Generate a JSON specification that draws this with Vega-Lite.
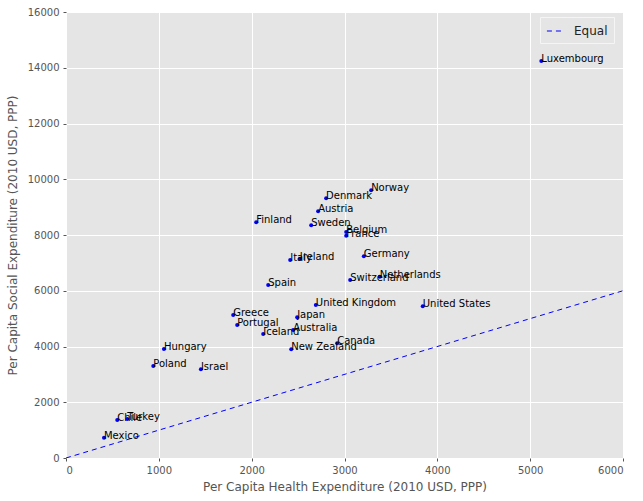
{
  "$schema": "https://vega.github.io/schema/vega-lite/v6.json",
  "width": 557,
  "height": 446,
  "autosize": "none",
  "padding": {"left": 66, "top": 12, "right": 20, "bottom": 43},
  "background": "white",
  "config": {
    "font": "DejaVu Sans",
    "view": {"fill": "#E5E5E5", "stroke": null},
    "axis": {
      "grid": true,
      "gridColor": "white",
      "gridWidth": 1,
      "domain": false,
      "tickColor": "#555555",
      "tickSize": 3,
      "labelColor": "#555555",
      "labelFontSize": 10,
      "labelFont": "DejaVu Sans",
      "titleFont": "DejaVu Sans",
      "titleFontSize": 12,
      "titleFontWeight": "normal",
      "titleColor": "#555555",
      "format": "d"
    },
    "legend": {
      "orient": "none",
      "legendX": 474,
      "legendY": 5,
      "fillColor": "#E5E5E5",
      "strokeColor": "#F5F5F5",
      "padding": 6,
      "labelFontSize": 12,
      "labelFont": "DejaVu Sans",
      "labelColor": "#222222",
      "symbolType": "stroke",
      "symbolSize": 200,
      "symbolStrokeWidth": 1,
      "labelOffset": 12
    }
  },
  "datasets": {
    "countries": [
      {"country": "Luxembourg", "health": 5120, "social": 14242},
      {"country": "Norway", "health": 3287, "social": 9603},
      {"country": "Denmark", "health": 2802, "social": 9315},
      {"country": "Austria", "health": 2716, "social": 8849},
      {"country": "Finland", "health": 2049, "social": 8455},
      {"country": "Sweden", "health": 2641, "social": 8347},
      {"country": "Belgium", "health": 3018, "social": 8108},
      {"country": "France", "health": 3018, "social": 7976},
      {"country": "Germany", "health": 3208, "social": 7235},
      {"country": "Italy", "health": 2415, "social": 7103},
      {"country": "Ireland", "health": 2519, "social": 7151},
      {"country": "Netherlands", "health": 3380, "social": 6505},
      {"country": "Switzerland", "health": 3061, "social": 6386},
      {"country": "Spain", "health": 2178, "social": 6206},
      {"country": "United Kingdom", "health": 2691, "social": 5489},
      {"country": "United States", "health": 3843, "social": 5441},
      {"country": "Greece", "health": 1801, "social": 5130},
      {"country": "Japan", "health": 2490, "social": 5047},
      {"country": "Portugal", "health": 1844, "social": 4771},
      {"country": "Australia", "health": 2447, "social": 4592},
      {"country": "Iceland", "health": 2124, "social": 4448},
      {"country": "Canada", "health": 2921, "social": 4113},
      {"country": "Hungary", "health": 1055, "social": 3910},
      {"country": "New Zealand", "health": 2426, "social": 3898},
      {"country": "Poland", "health": 940, "social": 3300},
      {"country": "Israel", "health": 1453, "social": 3182},
      {"country": "Turkey", "health": 660, "social": 1399},
      {"country": "Chile", "health": 552, "social": 1363},
      {"country": "Mexico", "health": 409, "social": 728}
    ],
    "equal": [
      {"health": 0, "social": 0, "series": "Equal"},
      {"health": 6000, "social": 6000, "series": "Equal"}
    ]
  },
  "layer": [
    {
      "data": {"name": "equal"},
      "mark": {"type": "line", "strokeDash": [5, 4], "strokeWidth": 1, "clip": true},
      "encoding": {
        "x": {"field": "health", "type": "quantitative", "scale": {"domain": [0, 6000], "nice": false}, "axis": {"values": [0, 1000, 2000, 3000, 4000, 5000, 6000], "title": "Per Capita Health Expenditure (2010 USD, PPP)", "titlePadding": 6, "labelPadding": 4}},
        "y": {"field": "social", "type": "quantitative", "scale": {"domain": [0, 16000], "nice": false}, "axis": {"values": [0, 2000, 4000, 6000, 8000, 10000, 12000, 14000, 16000], "title": "Per Capita Social Expenditure (2010 USD, PPP)", "titlePadding": 8, "labelPadding": 4}},
        "color": {"field": "series", "type": "nominal", "scale": {"range": ["#0000FF"]}, "legend": {"title": null}},
        "strokeDash": {"field": "series", "type": "nominal", "scale": {"range": [[5, 4]]}, "legend": {"title": null}}
      }
    },
    {
      "data": {"name": "countries"},
      "mark": {"type": "circle", "size": 16, "color": "#0000FF", "opacity": 1},
      "encoding": {
        "x": {"field": "health", "type": "quantitative"},
        "y": {"field": "social", "type": "quantitative"}
      }
    },
    {
      "data": {"name": "countries"},
      "mark": {"type": "text", "align": "left", "baseline": "alphabetic", "fontSize": 10, "font": "DejaVu Sans", "color": "black", "dy": 1},
      "encoding": {
        "x": {"field": "health", "type": "quantitative"},
        "y": {"field": "social", "type": "quantitative"},
        "text": {"field": "country", "type": "nominal"}
      }
    }
  ]
}
